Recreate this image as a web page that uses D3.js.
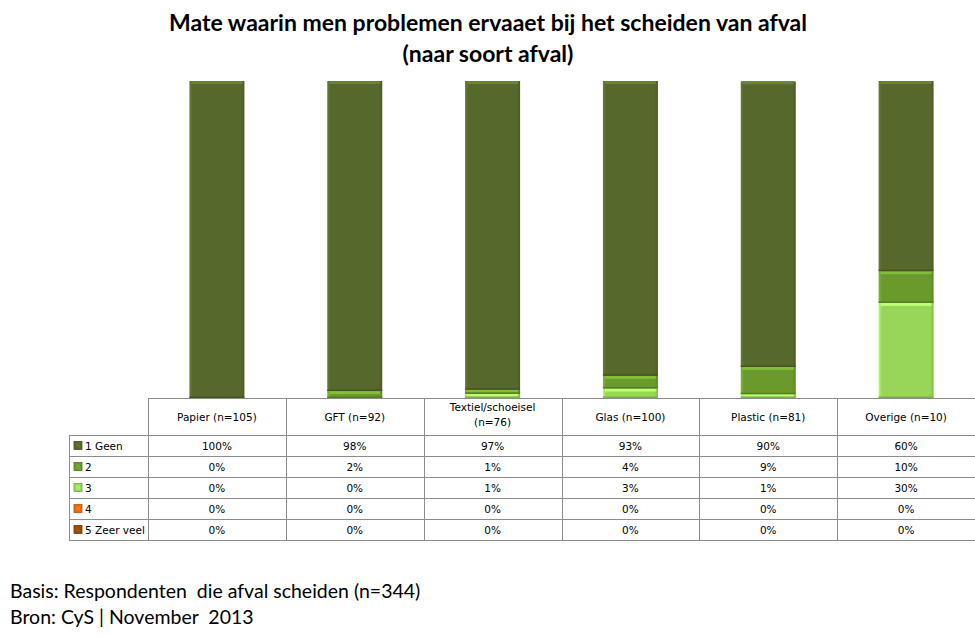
<!DOCTYPE html>
<html><head><meta charset="utf-8">
<script src="https://cdn.jsdelivr.net/npm/d3@7"></script>
<style>body{margin:0;background:#fff}svg{display:block}</style>
</head><body>
<svg id="c" width="975" height="637"></svg>
<script>
const titleLines = ["Mate waarin men problemen ervaaet bij het scheiden van afval", "(naar soort afval)"];
const categories = ["Papier (n=105)", "GFT (n=92)", "Textiel/schoeisel (n=76)", "Glas (n=100)", "Plastic (n=81)", "Overige (n=10)"];
const categoryLines = [["Papier (n=105)"], ["GFT (n=92)"], ["Textiel/schoeisel", "(n=76)"], ["Glas (n=100)"], ["Plastic (n=81)"], ["Overige (n=10)"]];
const seriesNames = ["1 Geen", "2", "3", "4", "5 Zeer veel"];
const seriesColors = ["#56682b", "#6a9a2b", "#98d65a", "#e46c0a", "#984807"];
// percentages (shown rounded in the table)
const values = [
  [100, 97.8, 97.4, 93, 90.1, 60],
  [0, 2.2, 1.3, 4, 8.6, 10],
  [0, 0, 1.3, 3, 1.2, 30],
  [0, 0, 0, 0, 0, 0],
  [0, 0, 0, 0, 0, 0]
];
const footnotes = ["Basis: Respondenten  die afval scheiden (n=344)", "Bron: CyS | November  2013"];

const svg = d3.select("#c");
const defs = svg.append("defs");

seriesColors.forEach((c, i) => {
  const g = defs.append("linearGradient").attr("id", "g" + i).attr("x1", 0).attr("x2", 1).attr("y1", 0).attr("y2", 0);
  const col = d3.color(c);
  g.append("stop").attr("offset", "0%").attr("stop-color", col.brighter(0.5));
  g.append("stop").attr("offset", "6%").attr("stop-color", c);
  g.append("stop").attr("offset", "94%").attr("stop-color", c);
  g.append("stop").attr("offset", "100%").attr("stop-color", col.darker(0.4));
});

// title
svg.append("g").selectAll("text").data(titleLines).join("text")
  .attr("x", 488).attr("y", (d, i) => 31 + i * 31)
  .attr("text-anchor", "middle")
  .style("font-family", "Lato, 'Open Sans', sans-serif").style("font-weight", "bold").style("font-size", "23px")
  .attr("fill", "#000").text(d => d);

const tableLeft = 69, colLeft = 148, right = 975;
const x = d3.scaleBand().domain(categories).range([colLeft, right]).paddingInner(0).paddingOuter(0);
const y = d3.scaleLinear().domain([0, 100]).range([398, 81]);
const barW = 55;

const stackOrder = [4, 3, 2, 1, 0];
const segs = [];
categories.forEach((cat, ci) => {
  let acc = 0;
  stackOrder.forEach(si => {
    const v = values[si][ci];
    if (v > 0) segs.push({ cat, si, y0: acc, y1: acc + v });
    acc += v;
  });
});
const bars = svg.append("g");
const segG = bars.selectAll("g").data(segs).join("g");
segG.append("rect")
  .attr("x", d => x(d.cat) + x.bandwidth() / 2 - barW / 2)
  .attr("y", d => y(d.y1))
  .attr("width", barW)
  .attr("height", d => y(d.y0) - y(d.y1))
  .attr("fill", d => `url(#g${d.si})`);
segG.append("rect")
  .attr("x", d => x(d.cat) + x.bandwidth() / 2 - barW / 2 + 2)
  .attr("y", d => y(d.y1))
  .attr("width", barW - 4)
  .attr("height", d => Math.min(3, y(d.y0) - y(d.y1)))
  .attr("fill", d => d3.color(seriesColors[d.si]).brighter(0.6));
segG.append("rect")
  .attr("x", d => x(d.cat) + x.bandwidth() / 2 - barW / 2)
  .attr("y", d => y(d.y0) - Math.min(1.5, (y(d.y0) - y(d.y1)) / 2))
  .attr("width", barW)
  .attr("height", d => Math.min(1.5, (y(d.y0) - y(d.y1)) / 2))
  .attr("fill", d => d3.color(seriesColors[d.si]).darker(0.6));

// table
const headerTop = 398, headerBottom = 435;
const rowH = 21;
const rowY = d3.scaleBand().domain(seriesNames).range([headerBottom, headerBottom + rowH * seriesNames.length]);
const tbl = svg.append("g").attr("stroke", "#8c8c8c").attr("stroke-width", 1).attr("shape-rendering", "crispEdges");
tbl.append("line").attr("x1", colLeft).attr("x2", right).attr("y1", headerTop + 0.5).attr("y2", headerTop + 0.5);
const hLines = [headerBottom].concat(seriesNames.map(s => rowY(s) + rowH));
tbl.selectAll("line.h").data(hLines).join("line").attr("class", "h")
  .attr("x1", tableLeft).attr("x2", right).attr("y1", d => d + 0.5).attr("y2", d => d + 0.5);
const tableBottom = headerBottom + rowH * seriesNames.length;
tbl.append("line").attr("x1", tableLeft + 0.5).attr("x2", tableLeft + 0.5).attr("y1", headerBottom).attr("y2", tableBottom);
tbl.selectAll("line.v").data(categories).join("line").attr("class", "v")
  .attr("x1", d => Math.round(x(d)) + 0.5).attr("x2", d => Math.round(x(d)) + 0.5)
  .attr("y1", headerTop).attr("y2", tableBottom);

const font = "'DejaVu Sans', Verdana, sans-serif";
const fs = "10.5px";
const hdr = svg.append("g").selectAll("text").data(categories).join("text")
  .attr("x", d => x(d) + x.bandwidth() / 2)
  .attr("text-anchor", "middle")
  .style("font-family", font).style("font-size", fs).attr("fill", "#000");
hdr.each(function (d, i) {
  const lines = categoryLines[i];
  const t = d3.select(this);
  const y0 = lines.length === 1 ? 421 : 411;
  lines.forEach((l, j) => t.append("tspan").attr("x", x(d) + x.bandwidth() / 2).attr("y", y0 + j * 15).text(l));
});

const rows = svg.append("g").selectAll("g").data(seriesNames).join("g");
rows.append("rect").attr("x", 74).attr("y", d => rowY(d) + rowH / 2 - 4).attr("width", 8).attr("height", 8)
  .attr("fill", (d, i) => seriesColors[i]).attr("stroke", (d, i) => d3.color(seriesColors[i]).darker(0.7)).attr("stroke-width", 0.8);
rows.append("rect").attr("x", 76).attr("y", d => rowY(d) + rowH / 2 - 2).attr("width", 4).attr("height", 4)
  .attr("fill", (d, i) => d3.color(seriesColors[i]).brighter(0.3));
rows.append("text").attr("x", 85).attr("y", d => rowY(d) + rowH / 2 + 4)
  .style("font-family", font).style("font-size", fs).attr("fill", "#000").text(d => d);

const cells = [];
seriesNames.forEach((s, si) => categories.forEach((c, ci) => cells.push({ s, c, v: values[si][ci] })));
svg.append("g").selectAll("text").data(cells).join("text")
  .attr("x", d => x(d.c) + x.bandwidth() / 2)
  .attr("y", d => rowY(d.s) + rowH / 2 + 4)
  .attr("text-anchor", "middle")
  .style("font-family", font).style("font-size", fs).attr("fill", "#000")
  .text(d => Math.round(d.v) + "%");

svg.append("g").selectAll("text").data(footnotes).join("text")
  .attr("x", 10).attr("y", (d, i) => 598 + i * 26)
  .style("font-family", "Lato, 'Open Sans', sans-serif").style("font-size", "19.5px").attr("fill", "#000")
  .style("white-space", "pre").attr("xml:space", "preserve")
  .text(d => d);
</script>
</body></html>
